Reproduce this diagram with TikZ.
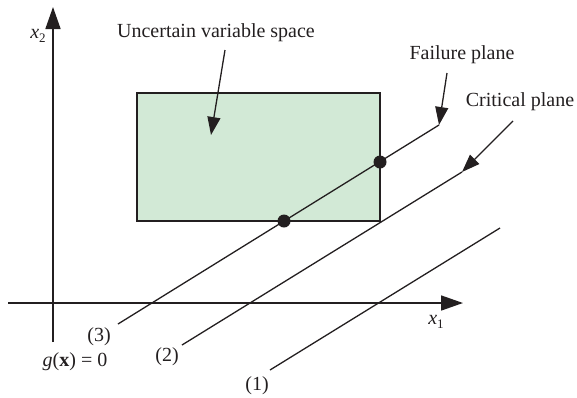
\documentclass[tikz,border=0pt]{standalone}
\usepackage{fontspec}
\setmainfont{Liberation Serif}
\usepackage{xcolor}
\usetikzlibrary{positioning,arrows.meta}
\definecolor{ink}{RGB}{35,31,32}
\definecolor{spacegreen}{RGB}{210,233,214}

\begin{document}
\begin{tikzpicture}[x=1pt, y=-1pt,
    every node/.style={font=\fontsize{20}{22}\selectfont, text=ink},
    axis/.style={-{Triangle[length=22pt,width=15pt]}, line width=1.6pt, draw=ink},
    plane/.style={line width=1.3pt, draw=ink},
    pointer/.style={-{Triangle[length=18pt,width=13pt]}, line width=1.3pt, draw=ink},
    region/.style={draw=ink, fill=spacegreen, line width=1.6pt, minimum width=243pt, minimum height=128pt, inner sep=0pt},
    hit/.style={circle, fill=ink, minimum size=13pt, inner sep=0pt},
]
\useasboundingbox (0,0) rectangle (577,397);

% Axes
\coordinate (xstart) at (8,303);
\coordinate (xend) at (463,303);
\coordinate (ystart) at (53,342);
\coordinate (yend) at (53,7);
\draw[axis] (xstart) -- (xend);
\draw[axis] (ystart) -- (yend);
\node (xonelabel) at (436,322) {\textit{x}\raisebox{-0.45ex}{\fontsize{13}{14}\selectfont 1}};
\node (xtwolabel) at (38,36) {\textit{x}\raisebox{-0.45ex}{\fontsize{13}{14}\selectfont 2}};

% Uncertain variable space
\node[region] (space) at (258.5,157) {};

% Planes
\coordinate (lowthree) at (118,324);
\coordinate (upthree) at (439,125);
\coordinate (lowtwo) at (182,345);
\coordinate (uptwo) at (462,172);
\coordinate (lowone) at (270,370);
\coordinate (upone) at (500,228);
\draw[plane] (lowthree) -- (upthree);
\draw[plane] (lowtwo) -- (uptwo);
\draw[plane] (lowone) -- (upone);
\node[hit] (hitbottom) at (284,221) {};
\node[hit] (hitside) at (380,162) {};

% Labels
\node (uvs) at (216,33) {Uncertain variable space};
\node (failure) at (462,55) {Failure plane};
\node (critical) at (520,102) {Critical plane};
\node (three) at (99,337) {(3)};
\node (gzero) at (75,362) {\textit{g}(\textbf{x}) = 0};
\node (two) at (167,357) {(2)};
\node (one) at (257,386) {(1)};

% Pointers
\coordinate (uvstail) at (225,50);
\coordinate (uvstip) at (211,135);
\coordinate (failtail) at (447,73);
\coordinate (crittail) at (513,121);
\draw[pointer] (uvstail) -- (uvstip);
\draw[pointer] (failtail) -- (upthree);
\draw[pointer] (crittail) -- (uptwo);

\end{tikzpicture}
\end{document}
